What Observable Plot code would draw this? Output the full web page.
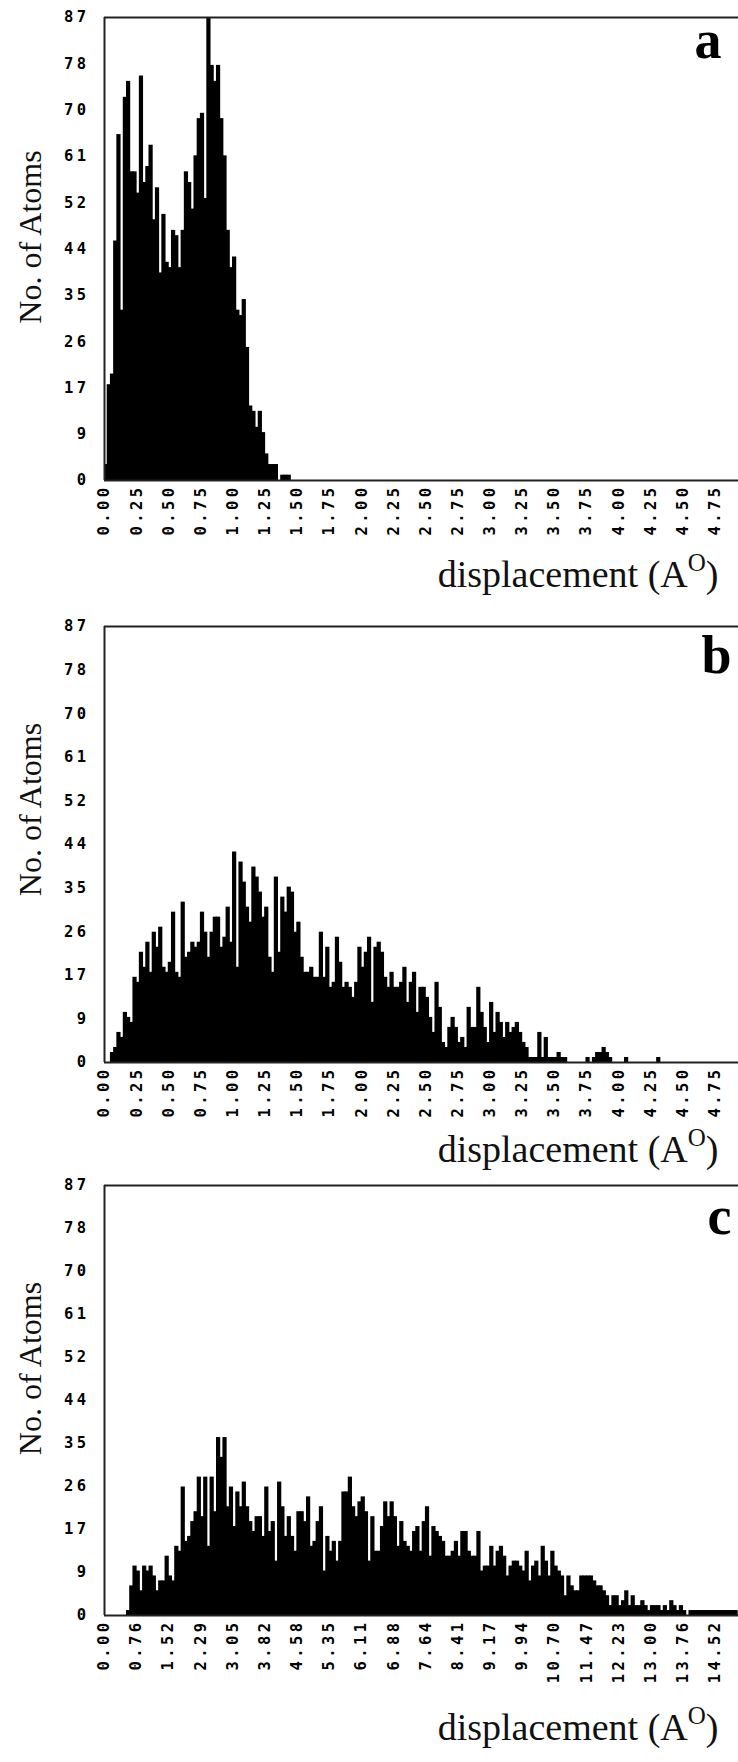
<!DOCTYPE html>
<html>
<head>
<meta charset="utf-8">
<script src="https://cdn.jsdelivr.net/npm/d3@7"></script>
<script src="https://cdn.jsdelivr.net/npm/@observablehq/plot@0.6"></script>
<style>
html, body { margin: 0; padding: 0; background: #fff; }
#wrap { position: relative; width: 738px; height: 1762px; overflow: hidden; background: #fff; }
.panel { position: absolute; left: 0; }
.panel svg { overflow: visible; }
.panel g[aria-label="x-axis tick label"], .panel g[aria-label="y-axis tick label"] {
  font-family: "DejaVu Sans Mono", monospace !important;
  font-weight: bold !important;
  font-size: 15.5px !important;
  letter-spacing: 3.4px;
  fill: #000;
}
</style>
</head>
<body>
<div id="wrap"></div>
<script>
// ---------- data ----------
const yTickValues = [0, 8.7, 17.4, 26.1, 34.8, 43.5, 52.2, 60.9, 69.6, 78.3, 87];
const yTickLabels = ["0", "9", "17", "26", "35", "44", "52", "61", "70", "78", "87"];
const xTickLabelsAB = ["0.00","0.25","0.50","0.75","1.00","1.25","1.50","1.75","2.00","2.25",
  "2.50","2.75","3.00","3.25","3.50","3.75","4.00","4.25","4.50","4.75"];
const xTickLabelsC = ["0.00","0.76","1.52","2.29","3.05","3.82","4.58","5.35","6.11","6.88",
  "7.64","8.41","9.17","9.94","10.70","11.47","12.23","13.00","13.76","14.52"];
const binWidthAB = 0.025;
const binWidthC = 0.07645;
const panelLetters = ["a", "b", "c"];
const yLabel = "No. of Atoms";
const xLabelMain = "displacement (A";
const xLabelSup = "O";
const xLabelEnd = ")";

// counts per bin (bin i covers [i*w, (i+1)*w))
const countsA = [3,18,20,45,65,32,72,75,58,58,
  54,76,56,59,63,49,55,39,50,41,
  40,47,46,40,47,58,56,51,61,68,
  69,53,87,78,75,78,68,61,47,40,
  42,32,31,34,25,14,13,10,13,9,
  5,3,3,3,0,1,1,1];

const countsB = [0,0,2,3,6,5,10,9,8,17,
  16,22,19,24,18,26,23,27,19,18,
  20,30,18,17,32,21,22,24,23,24,
  30,26,21,26,29,29,23,25,31,24,
  42,19,40,36,31,28,39,37,34,29,
  31,21,18,37,22,33,30,35,34,26,
  28,21,18,18,19,17,17,26,17,23,
  15,16,25,20,15,16,15,13,16,23,
  19,22,25,12,23,24,22,17,15,18,
  15,15,16,19,12,16,18,10,15,15,
  13,9,6,16,11,4,3,7,9,7,
  4,5,3,11,7,7,15,10,7,4,
  12,6,10,8,5,8,6,7,8,6,
  4,3,1,1,1,6,1,5,1,1,
  1,2,1,1,0,0,0,0,0,0,
  1,0,1,2,2,3,2,1,0,0,
  0,0,1,0,0,0,0,0,0,0,
  0,0,1];

const countsC = [0,0,0,0,0,0,0,1,6,10,
  9,5,10,9,10,8,5,7,7,12,
  8,7,14,13,26,15,16,19,21,28,
  20,28,14,28,21,36,32,36,22,26,
  18,25,22,27,22,19,17,20,20,16,
  26,17,19,11,27,22,16,20,16,13,
  21,21,19,24,14,15,19,22,9,16,
  13,15,11,15,25,25,28,22,20,23,
  24,21,11,20,13,13,18,23,20,23,
  20,14,19,15,14,13,17,18,13,19,
  22,12,18,17,16,15,12,12,13,15,
  12,17,17,13,12,12,17,9,10,10,
  14,10,13,14,12,8,10,11,11,10,
  9,13,7,10,11,8,14,11,8,13,
  10,9,8,4,8,6,5,5,8,8,
  8,8,7,6,6,5,4,2,4,4,
  2,3,5,2,4,2,2,3,2,1,
  2,2,2,1,2,1,3,2,1,2,
  1,0,1,1,1,1,1,1,1,1,
  1,1,1,1,1,1,1];

// ---------- drawing ----------
const LINE = "#222";

function makePanel({counts, binWidth, xMax, tickLabels, letter, top, height, marginTop, marginBottom,
                    labelDy, letterDx, letterDy, yLabelDy}) {
  const bins = counts.map((c, i) => ({x1: i * binWidth, x2: (i + 1) * binWidth, count: c}))
    .filter(d => d.count > 0);
  const tickValues = tickLabels.map(Number);
  const labelOf = new Map(tickValues.map((v, i) => [v, tickLabels[i]]));
  const yLabelOf = new Map(yTickValues.map((v, i) => [v, yTickLabels[i]]));

  const chart = Plot.plot({
    width: 738,
    height,
    marginLeft: 104,
    marginRight: 0,
    marginTop,
    marginBottom,
    style: {background: "transparent", overflow: "visible"},
    x: {domain: [0, xMax]},
    y: {domain: [0, 87]},
    marks: [
      Plot.rectY(bins, {x1: "x1", x2: "x2", y: "count", fill: "#000", insetLeft: -0.5, insetRight: -0.5, clip: true}),
      Plot.ruleY([0, 87], {stroke: LINE, strokeWidth: 2}),
      Plot.ruleX([0], {stroke: LINE, strokeWidth: 2}),
      Plot.axisY(yTickValues, {tickSize: 0, tickPadding: 15, tickFormat: d => yLabelOf.get(d), label: null,
        fontFamily: "DejaVu Sans Mono", fontWeight: "bold", fontSize: 15.5}),
      Plot.axisX(tickValues, {tickSize: 0, tickPadding: 4, tickRotate: -90, tickFormat: d => labelOf.get(d), label: null,
        fontFamily: "DejaVu Sans Mono", fontWeight: "bold", fontSize: 15.5}),
      Plot.text([yLabel], {frameAnchor: "left", rotate: -90, textAnchor: "middle", lineAnchor: "bottom",
        dx: -64, dy: yLabelDy, fontFamily: "Liberation Serif", fontSize: 32, fill: "#111"}),
      Plot.text([xLabelMain + xLabelSup + xLabelEnd], {frameAnchor: "bottom-right", textAnchor: "end", lineAnchor: "bottom",
        dx: -20, dy: labelDy, fontFamily: "Liberation Serif", fontSize: 38, fill: "#111"}),
      Plot.text([letter], {frameAnchor: "top-right", textAnchor: "end", lineAnchor: "bottom",
        dx: letterDx, dy: letterDy, fontFamily: "Liberation Serif", fontWeight: "bold", fontSize: 54, fill: "#000"})
    ]
  });

  // superscript O in the x label
  d3.select(chart).selectAll("text").each(function() {
    if (this.textContent === xLabelMain + xLabelSup + xLabelEnd) {
      const t = d3.select(this);
      t.text(null);
      t.append("tspan").text(xLabelMain);
      t.append("tspan").attr("font-size", 25).attr("dy", -16).text(xLabelSup);
      t.append("tspan").attr("dy", 16).text(xLabelEnd);
    }
  });

  const div = document.createElement("div");
  div.className = "panel";
  div.style.top = top + "px";
  div.appendChild(chart);
  document.getElementById("wrap").appendChild(div);
}

// panel a: frame 17..480
makePanel({counts: countsA, binWidth: binWidthAB, xMax: 4.933, tickLabels: xTickLabelsAB, letter: panelLetters[0],
  top: 0, height: 600, marginTop: 17, marginBottom: 120, labelDy: 106, letterDx: -17, letterDy: 40, yLabelDy: -12});
// panel b: frame 626..1062
makePanel({counts: countsB, binWidth: binWidthAB, xMax: 4.933, tickLabels: xTickLabelsAB, letter: panelLetters[1],
  top: 600, height: 570, marginTop: 26, marginBottom: 108, labelDy: 99, letterDx: -7, letterDy: 46, yLabelDy: -35});
// panel c: frame 1185..1615
makePanel({counts: countsC, binWidth: binWidthC, xMax: 15.08, tickLabels: xTickLabelsC, letter: panelLetters[2],
  top: 1170, height: 592, marginTop: 15, marginBottom: 147, labelDy: 124, letterDx: -7, letterDy: 48, yLabelDy: -32});
</script>
</body>
</html>
